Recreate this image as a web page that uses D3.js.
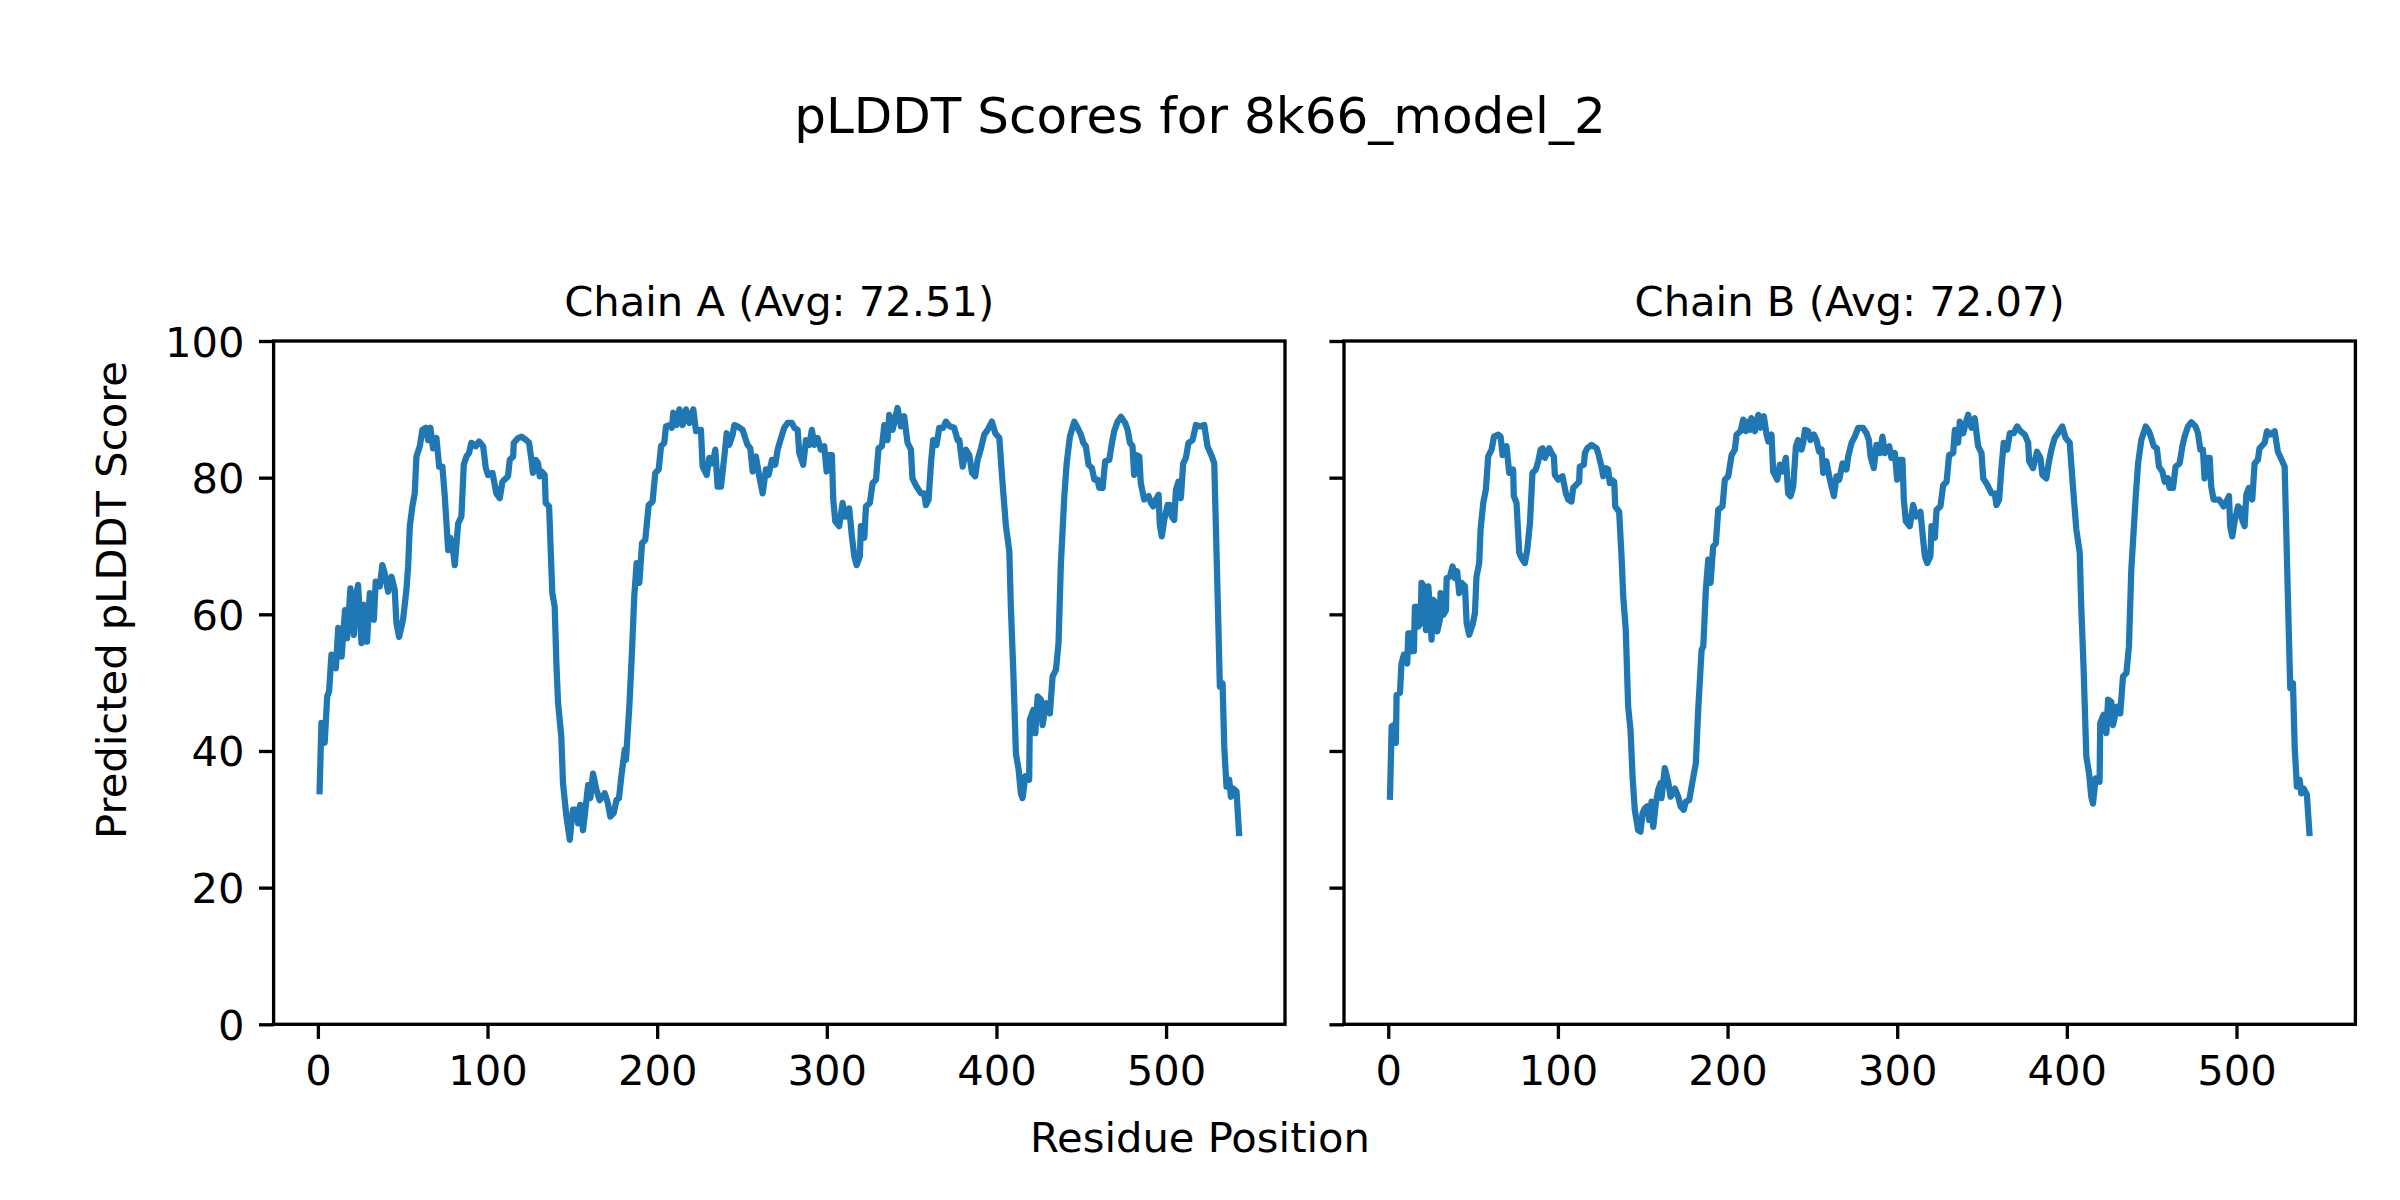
<!DOCTYPE html>
<html>
<head>
<meta charset="utf-8">
<script src="https://cdn.jsdelivr.net/npm/d3@7"></script>
<style>
  body { margin: 0; background: #fff; }
  svg { font-family: "DejaVu Sans", sans-serif; }
</style>
</head>
<body>
<div id="chart"></div>
<script>
// Values (residue position, pLDDT)
const residuesA = [1, 2.1, 4, 5.5, 6.6, 8, 10.6, 12, 14, 16, 17.2, 19.2, 21.2, 22.4, 23.7, 25.7, 27, 29, 30.6, 33, 34.1, 36.5, 38, 39.4, 41.4, 43.4, 45.3, 46.3, 47.9, 50.2, 52.2, 53.2, 54.2, 55.7, 57.1, 58.1, 60.1, 61.6, 63.6, 65, 66.3, 67.9, 69.9, 71.5, 73.4, 74.8, 76.8, 78.1, 79.7, 80.7, 82.7, 84.6, 86, 87.6, 89.1, 90.5, 93.1, 95, 97.4, 99, 100.3, 102.9, 105.2, 107.2, 108.8, 112.1, 113.1, 115.1, 115.5, 118, 120, 122.9, 124.5, 125.9, 126.8, 128.4, 129.8, 130.8, 131.8, 133.7, 134.3, 136.3, 138.2, 139.6, 140.6, 141.6, 143.5, 144.5, 146.5, 148.5, 149.4, 150.4, 152.4, 153.4, 154.7, 156.3, 157.9, 159.3, 160.6, 162.2, 164.2, 166.1, 169.1, 171, 172.4, 174.4, 176, 177.5, 178.9, 180.9, 181.6, 183.6, 185.2, 186.5, 187.9, 189.5, 191.1, 193, 195, 197.3, 198.9, 200.9, 202.3, 204.2, 205.2, 207.2, 208.7, 209.5, 211.5, 213.1, 215, 217, 219, 221.3, 222.9, 225.8, 226.8, 229.2, 230.7, 232.7, 234.3, 235.6, 237.6, 239.6, 241, 242.5, 244.5, 245.5, 247.4, 250.4, 252.3, 253.3, 254.9, 256.3, 258.2, 260.2, 262.2, 264.1, 265.7, 267.7, 269.6, 271, 273, 274.9, 276.9, 279.5, 280.8, 282.8, 283.8, 286.1, 287.7, 289.7, 291.2, 292.6, 294.6, 296.5, 298.5, 299.9, 301, 303, 303.8, 305, 307.3, 309.3, 310.9, 313.2, 314.8, 316.2, 317.6, 319.5, 320.1, 322.1, 323.1, 325.4, 327, 329, 330.5, 332.5, 333.9, 335.8, 336.8, 338.8, 340.3, 341.7, 343.7, 345.6, 347.6, 349.6, 350.5, 352.9, 355.5, 357.4, 358.4, 360, 361.4, 362.7, 364.7, 366.3, 368.6, 370.2, 372.6, 375.1, 377.1, 378.1, 380.1, 382, 384, 385.6, 387.5, 388.9, 390.9, 392.8, 394.8, 397.3, 399.3, 401.7, 403.6, 405.6, 407.6, 408.5, 409.9, 411.5, 413.1, 414.4, 415.4, 417, 419.3, 419.7, 421.7, 422.9, 424.3, 426.2, 427.2, 429.2, 431.5, 433.1, 435.1, 436.6, 438, 440, 441.4, 443.3, 445.9, 447.8, 449.8, 451.2, 452.7, 454.3, 456.3, 457.7, 459.6, 460.6, 462.6, 464.1, 466.5, 468.1, 469.4, 471.4, 473.4, 475.9, 477.3, 478.7, 480.2, 481.2, 482.6, 484.2, 485.1, 487.1, 489.7, 491.1, 492.4, 494, 495.6, 496.3, 497.5, 498.9, 500.9, 502.2, 503.4, 504.8, 505.8, 507.3, 508.7, 510.1, 511.7, 513.2, 515.6, 517.6, 520, 522.5, 524.4, 527, 528.4, 530.3, 531.7, 533.3, 534.3, 535.6, 537.2, 538.2, 539.6, 541.5, 543];
const plddtA = [34.1, 44.1, 41.2, 48, 48.7, 54.1, 52.1, 58, 53.8, 60.6, 56.5, 63.8, 57, 62.6, 64.3, 55.8, 61.4, 56, 63.1, 59.2, 64.8, 64.1, 67.2, 66, 63.3, 65.5, 63.6, 58.7, 56.7, 59.2, 63.6, 67, 72.9, 75.8, 77.7, 83.1, 84.6, 87, 87.3, 85.5, 87.3, 84.3, 85.8, 81.6, 81.6, 77.3, 69.4, 71.2, 69.4, 67.2, 73.3, 74.3, 81.9, 83.1, 83.6, 85.1, 84.6, 85.3, 84.6, 81.4, 80.4, 80.7, 77.7, 77, 79.4, 80.2, 82.6, 83.1, 85.1, 85.8, 86, 85.5, 85.1, 82.6, 80.7, 82.6, 82.1, 80.2, 80.9, 80.4, 76.3, 75.8, 63.1, 61.1, 52.8, 47, 42.1, 35.3, 30.4, 27, 29.4, 31.4, 31.4, 29.4, 32.1, 28.4, 31.9, 35, 33.1, 36.7, 34.3, 32.8, 33.8, 32.3, 30.4, 30.9, 32.8, 33.1, 36.3, 40.2, 38.7, 46.5, 54.8, 62.6, 67.5, 64.6, 70.4, 70.9, 76, 76.5, 80.7, 81.2, 84.6, 85.1, 87.5, 87.7, 87.3, 89.5, 87.7, 90, 87.7, 90, 88, 90, 86.8, 87, 81.6, 80.4, 82.9, 82.1, 84.1, 78.7, 78.7, 83.1, 86.5, 84.8, 86.3, 87.7, 87.5, 87, 85.5, 84.8, 84.3, 80.9, 83.1, 80.2, 77.7, 81.2, 80.4, 82.6, 81.9, 84.1, 85.8, 87.3, 88, 88, 87.3, 87, 83.6, 81.9, 85.5, 84.8, 87, 84.8, 85.8, 84.1, 84.6, 80.9, 83.3, 83.3, 76.8, 73.6, 72.9, 76.3, 74.3, 75.5, 71.4, 68.5, 67.2, 68.5, 72.9, 71.2, 75.8, 76.3, 79.2, 79.7, 84.3, 84.6, 87.7, 85.5, 89.2, 87, 88.7, 90.2, 87.5, 89, 85.1, 84.1, 79.9, 78.7, 77.7, 77.7, 76, 76.8, 82.1, 85.5, 84.8, 87.3, 87.3, 88.2, 87.5, 87.3, 85.5, 85.5, 81.6, 84.1, 83.3, 80.7, 80.2, 82.6, 84.3, 86.3, 87, 88.2, 86.5, 85.8, 79.2, 72.9, 69.2, 61.1, 51.9, 39.6, 37.2, 33.8, 33.1, 36.3, 35.8, 44.6, 46, 42.6, 48, 47.5, 43.8, 47, 45.5, 50.9, 51.9, 55.8, 67.5, 77.2, 82.1, 86, 88.2, 87.3, 86.3, 85.1, 84.6, 81.9, 81.4, 79.7, 79.7, 78.5, 78.5, 82.4, 82.6, 85.1, 86.8, 88.2, 88.9, 88, 87, 85.1, 84.6, 80.4, 83.3, 83.1, 79.2, 76.8, 77.3, 76.3, 75.8, 76.8, 77.5, 73.1, 71.4, 73.8, 76, 76, 74.3, 73.8, 78.2, 79.4, 77, 82.1, 82.9, 85.1, 85.5, 87.7, 87.5, 87.7, 84.6, 83.1, 82.1, 63.6, 49.4, 49.9, 40.6, 34.8, 35.8, 33.3, 34.5, 34.1, 28];

const residuesB = [1, 2, 3.3, 4.5, 4.9, 6.9, 7.8, 9.2, 11.2, 11.8, 13.2, 13.7, 15.1, 15.7, 17.1, 17.7, 19, 19.6, 21, 22.2, 23.6, 24.5, 25.5, 26.5, 28.1, 28.9, 30.4, 30.8, 32.4, 34, 34.4, 36.3, 37.9, 39.3, 40.6, 41.8, 43.2, 45.2, 46.2, 47.7, 49.7, 51.1, 52, 53.6, 54.4, 56, 57.5, 58.9, 60.9, 62.3, 64.8, 66.2, 67.4, 69.7, 71.3, 73.6, 74, 75.6, 77.2, 78.6, 80.5, 81.9, 83.5, 85, 87, 88.4, 89.8, 91, 92.3, 94.9, 96.2, 97.6, 98.2, 100.2, 102.7, 104.7, 106.1, 108, 109, 111, 112.5, 112.9, 115.3, 115.9, 117.3, 119.8, 122.8, 123.7, 125.7, 126.7, 128.3, 129.6, 130.6, 131.6, 133.2, 133.8, 136.1, 137.5, 138.5, 140, 141.4, 142.8, 144, 145.3, 147.3, 148.7, 149.9, 151.2, 152.6, 153.8, 155.2, 156.2, 157.7, 159.1, 160.5, 161.1, 163, 165, 166.4, 168.9, 170.9, 172.3, 174.2, 175.4, 177.4, 179.5, 181.3, 182.7, 184.7, 185.7, 187.2, 188.6, 190, 191.5, 193.1, 194.5, 197, 198.4, 200.4, 202.4, 204.3, 205.3, 207.7, 209.2, 210.8, 212.2, 213.6, 214.1, 216.1, 218.1, 219.4, 221.4, 223, 224, 225.9, 226.9, 229.3, 230.8, 232.4, 234.4, 235.7, 237.1, 238.7, 240.3, 241.6, 243.6, 244.6, 245.6, 247.5, 248.9, 250.9, 252.4, 254, 255.4, 256.4, 258.3, 259.9, 261.3, 262.7, 264.2, 265.8, 267.8, 270.1, 271.1, 273.1, 275, 277, 279.9, 281.9, 283.3, 284.3, 286.2, 287.8, 289.8, 291.3, 292.7, 295.3, 296.6, 298.6, 300, 301.2, 303.1, 303.9, 305.1, 307.4, 309.4, 311, 313.7, 315.3, 316.3, 317.7, 319.6, 320.2, 322.2, 323.2, 325.5, 327.1, 329.1, 330.6, 333, 334, 335.9, 336.9, 338.9, 340.4, 341.8, 343.8, 345.7, 347.7, 349.7, 350.7, 353, 355.6, 357.5, 358.5, 360.1, 361.5, 362.8, 364.8, 366.4, 368.7, 370.7, 372.7, 375.2, 377.2, 377.8, 380.1, 382.4, 384.4, 385.6, 387.9, 389.5, 390.9, 392.8, 394.8, 397.3, 399.3, 401.7, 403.6, 405.6, 407.6, 408.5, 409.9, 411.5, 413.1, 414.4, 415.4, 417, 419.3, 419.7, 421.7, 423.3, 424.3, 426.2, 427.2, 429.6, 431.5, 433.1, 435.1, 436.6, 438, 440.6, 442, 443.9, 446.5, 448.4, 449.8, 451.2, 453.1, 454.3, 456.3, 457.7, 459.6, 460.6, 462.6, 464.1, 466.5, 468.1, 469.4, 471.4, 473.4, 475.9, 477.3, 478.7, 480.2, 481.2, 482.6, 484.2, 485.1, 486.5, 489.7, 491.1, 492.4, 494, 495.6, 496.3, 497.5, 498.9, 500.9, 502.2, 503.4, 504.8, 505.8, 507.3, 509.3, 510.7, 512.6, 513.6, 516.6, 518, 519.9, 522.5, 524.4, 527, 528.4, 530.3, 531.7, 533.3, 534.3, 535.6, 537.2, 538.2, 539.6, 541.5, 543];
const plddtB = [33.3, 43.6, 43.8, 41.2, 48.2, 48.5, 52.8, 54.1, 52.8, 57.2, 57.2, 54.6, 54.6, 61.1, 61.1, 58.2, 58.7, 64.6, 64.1, 57.7, 64.1, 61.1, 56.3, 62.1, 61.6, 57.5, 59.2, 63.1, 59.9, 60.6, 65.3, 65.5, 67, 65.3, 66.3, 63.1, 64.6, 64.1, 58.7, 57, 58.5, 60.2, 65.5, 67.5, 72.4, 76.3, 78.2, 83.1, 84.1, 86, 86.3, 86, 83.3, 84.6, 80.7, 81.2, 77.3, 76.3, 69, 68.2, 67.5, 69.4, 73.3, 80.7, 81.2, 82.4, 84.1, 84.3, 82.9, 84.3, 83.6, 83.1, 80.4, 79.7, 80.2, 77.7, 76.8, 76.5, 78.5, 79, 79.4, 81.6, 81.9, 83.6, 84.3, 84.8, 84.3, 83.6, 81.6, 80.2, 81.4, 81.2, 79.2, 79.7, 79.4, 75.8, 75, 68.5, 62.6, 57.7, 46.5, 43.1, 36.3, 31.4, 28.4, 28.2, 30.9, 31.6, 31.9, 29.9, 32.6, 28.9, 32.3, 34.3, 35.3, 33.1, 37.5, 35.5, 33.3, 34.5, 33.3, 31.9, 31.4, 32.6, 32.8, 35.8, 38.2, 46, 54.8, 55.3, 63.6, 68, 64.6, 69.9, 70.4, 75.3, 75.8, 79.7, 80.2, 83.3, 84.1, 86.3, 86.8, 88.5, 86.8, 88.2, 87, 88.7, 86.8, 89.2, 87.3, 89, 86.3, 85.3, 86.3, 80.9, 79.7, 81.9, 80.9, 82.9, 77.7, 77.3, 78.7, 84.6, 85.5, 84.1, 85.1, 87, 86.8, 85.5, 86.3, 85.5, 83.8, 84.1, 80.7, 82.4, 80.2, 78.7, 77.3, 80.2, 79.7, 82.1, 81.2, 83.1, 85.1, 86, 87.3, 87.3, 86.5, 85.5, 83.1, 81.4, 84.8, 83.6, 86, 83.6, 84.6, 82.9, 83.6, 79.7, 82.6, 82.6, 76.8, 73.6, 72.9, 76, 74.3, 75, 70.9, 68.5, 67.5, 68.5, 72.9, 71.2, 75.3, 75.8, 78.9, 79.4, 83.3, 83.6, 87, 85.1, 88.2, 86.5, 88, 89.2, 87.3, 88.7, 84.6, 83.6, 79.9, 79, 77.7, 77.7, 76, 76.8, 81.6, 85.1, 84.1, 86.5, 86.5, 87.5, 86.8, 86.3, 85.1, 82.4, 81.4, 83.8, 82.9, 80.4, 79.9, 82.4, 84.1, 85.8, 86.5, 87.5, 85.8, 85.1, 78.7, 72.4, 69, 61.1, 51.9, 39.2, 36.7, 33.3, 32.3, 36, 35.5, 44.1, 45.3, 42.6, 47.5, 47.2, 43.8, 46.5, 45.5, 50.9, 51.4, 55.3, 66.5, 77.2, 82.1, 85.5, 87.5, 86.8, 85.8, 84.6, 84.3, 81.6, 80.9, 79.4, 79.9, 78.5, 78.5, 81.6, 82.1, 84.6, 86, 87.5, 88.1, 87.5, 86.5, 84.1, 84.1, 79.9, 82.9, 82.9, 78.7, 76.8, 76.8, 76.3, 75.8, 76.5, 77.3, 72.9, 71.4, 73.6, 75.8, 75.5, 73.8, 72.9, 77.5, 78.5, 76.8, 82.1, 82.6, 84.3, 85.1, 86.8, 86.3, 86.8, 83.8, 82.4, 81.6, 62.6, 49.2, 49.9, 40.6, 34.8, 35.8, 33.8, 34.5, 33.6, 28];

const chainNames = ["Chain A (Avg: 72.51)", "Chain B (Avg: 72.07)"];
const xTicks = [0, 100, 200, 300, 400, 500];
const yTicks = [0, 20, 40, 60, 80, 100];

// Figure size and panel placement
const W = 2400, H = 1200;
const panelLeft = [273.6, 1344];
const panelW = 1011.4;
const plotTop = 341, plotBottom = 1024.3;
const px = 2400 / 576; // pixels per point (300 dpi)

const svg = d3.select("#chart")
    .append("svg")
    .attr("width", W)
    .attr("height", H);

svg.append("rect").attr("width", W).attr("height", H).attr("fill", "#fff");

const y = d3.scaleLinear().domain([0, 100]).range([plotBottom, plotTop]);

const series = [
    residuesA.map((r, i) => ({ r: r, v: plddtA[i] })),
    residuesB.map((r, i) => ({ r: r, v: plddtB[i] }))
];

series.forEach((data, k) => {
    const x0 = panelLeft[k];
    const pad = (543 - 1) * 0.05;
    const x = d3.scaleLinear().domain([1 - pad, 543 + pad]).range([x0, x0 + panelW]);

    const g = svg.append("g");

    // the line
    const line = d3.line().x((d) => x(d.r)).y((d) => y(d.v));
    g.append("path")
        .datum(data)
        .attr("d", line)
        .attr("fill", "none")
        .attr("stroke", "#1f77b4")
        .attr("stroke-width", 1.5 * px)
        .attr("stroke-linejoin", "round")
        .attr("stroke-linecap", "square");

    // x axis
    const xAxis = d3.axisBottom(x).tickValues(xTicks).tickSize(3.5 * px).tickPadding(3.5 * px).tickSizeOuter(0);
    const gx = g.append("g").attr("transform", `translate(0,${plotBottom})`).call(xAxis);
    gx.select(".domain").remove();
    gx.selectAll("line").attr("stroke", "#000").attr("stroke-width", 0.8 * px);
    gx.selectAll("text").attr("font-size", 10 * px).attr("fill", "#000")
        .attr("font-family", "DejaVu Sans").attr("dy", "0.76em");

    // y axis (labels only on the left panel)
    const yAxis = d3.axisLeft(y).tickValues(yTicks).tickSize(3.5 * px).tickPadding(3.5 * px).tickSizeOuter(0);
    if (k === 1) yAxis.tickFormat("");
    const gy = g.append("g").attr("transform", `translate(${x0},0)`).call(yAxis);
    gy.select(".domain").remove();
    gy.selectAll("line").attr("stroke", "#000").attr("stroke-width", 0.8 * px);
    gy.selectAll("text").attr("font-size", 10 * px).attr("fill", "#000")
        .attr("font-family", "DejaVu Sans").attr("dy", "0.36em");

    // frame
    g.append("rect")
        .attr("x", x0).attr("y", plotTop)
        .attr("width", panelW).attr("height", plotBottom - plotTop)
        .attr("fill", "none")
        .attr("stroke", "#000")
        .attr("stroke-width", 0.8 * px);

    // panel title
    g.append("text")
        .attr("x", x0 + panelW / 2)
        .attr("y", plotTop - 6 * px)
        .attr("text-anchor", "middle")
        .attr("font-size", 10 * px)
        .text(chainNames[k]);
});

// figure title and shared labels
svg.append("text")
    .attr("x", W / 2).attr("y", 133)
    .attr("text-anchor", "middle")
    .attr("font-size", 12 * px)
    .text("pLDDT Scores for 8k66_model_2");

svg.append("text")
    .attr("x", W / 2).attr("y", 1152)
    .attr("text-anchor", "middle")
    .attr("font-size", 10 * px)
    .text("Residue Position");

svg.append("text")
    .attr("transform", `translate(126,600) rotate(-90)`)
    .attr("text-anchor", "middle")
    .attr("font-size", 10 * px)
    .text("Predicted pLDDT Score");
</script>
</body>
</html>
